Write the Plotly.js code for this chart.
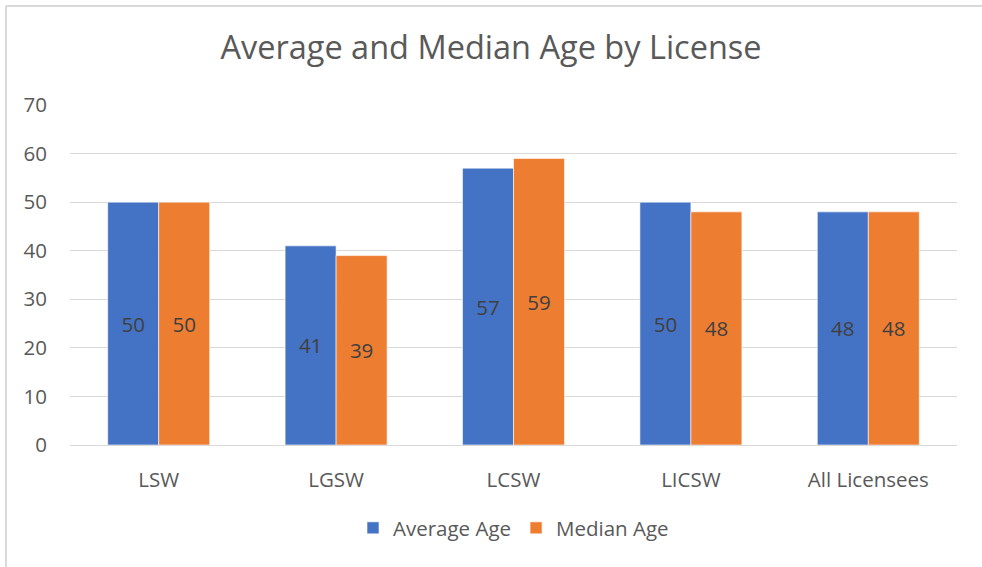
<!DOCTYPE html>
<html>
<head>
<meta charset="utf-8">
<script src="https://cdn.plot.ly/plotly-3.0.1.min.js"></script>
<style>
html,body{margin:0;padding:0;background:#fff;}
#chart{width:982px;height:567px;}
</style>
</head>
<body>
<div id="chart"></div>
<script>
const categories = ["LSW", "LGSW", "LCSW", "LICSW", "All Licensees"];
const averageAge = [50, 41, 57, 50, 48];
const medianAge = [50, 39, 59, 48, 48];
const seriesNames = ["Average Age", "Median Age"];

const W = 982, H = 567;
const m = {l: 70, r: 25, t: 105, b: 122};
const pw = W - m.l - m.r, ph = H - m.t - m.b;
function px(x){ return (x - m.l) / pw; }
function py(y){ return (H - m.b - y) / ph; }

const FONT = '"Open Sans", "Noto Sans", sans-serif';
const FS = 20.5;

const common = {
  type: 'bar',
  x: categories,
  textposition: 'inside',
  insidetextanchor: 'middle',
  textfont: {family: FONT, size: FS, color: '#404040'},
  hoverinfo: 'none'
};

const traces = [
  Object.assign({}, common, {
    name: seriesNames[0], y: averageAge, text: averageAge.map(String),
    marker: {color: '#4472C4', line: {color: '#ffffff', width: 0.6}}
  }),
  Object.assign({}, common, {
    name: seriesNames[1], y: medianAge, text: medianAge.map(String),
    marker: {color: '#ED7D31', line: {color: '#ffffff', width: 0.6}}
  })
];

const layout = {
  width: W, height: H,
  margin: m,
  paper_bgcolor: '#ffffff',
  plot_bgcolor: '#ffffff',
  font: {family: FONT, color: '#595959'},
  title: {
    text: 'Average and Median Age by License',
    font: {family: FONT, size: 32.5, color: '#595959'},
    x: 0.5, xanchor: 'center', y: 1 - 48 / H, yanchor: 'middle'
  },
  barmode: 'group',
  bargap: 0.425,
  bargroupgap: 0,
  xaxis: {
    showgrid: false,
    showline: true, linecolor: '#d9d9d9', linewidth: 1,
    ticks: '',
    tickfont: {family: FONT, size: FS, color: '#595959'},
    ticklabelstandoff: 16
  },
  yaxis: {
    range: [0, 70],
    dtick: 10,
    showgrid: true, gridcolor: '#d9d9d9', gridwidth: 1,
    zeroline: false,
    showline: false,
    ticks: '',
    tickfont: {family: FONT, size: FS, color: '#595959'},
    ticklabelstandoff: 22
  },
  legend: {
    orientation: 'h',
    x: 0.5, xanchor: 'center',
    y: py(528), yanchor: 'middle',
    font: {family: FONT, size: FS, color: '#595959'},
    traceorder: 'normal',
    itemwidth: 30
  },
  shapes: [
    {type: 'line', xref: 'paper', yref: 'paper', x0: px(6), x1: px(982), y0: py(6), y1: py(6),
     line: {color: '#d9d9d9', width: 2}},
    {type: 'line', xref: 'paper', yref: 'paper', x0: px(6), x1: px(6), y0: py(6), y1: py(567),
     line: {color: '#d9d9d9', width: 2}}
  ],
  showlegend: true
};

Plotly.newPlot('chart', traces, layout, {displayModeBar: false, staticPlot: true});
</script>
</body>
</html>
